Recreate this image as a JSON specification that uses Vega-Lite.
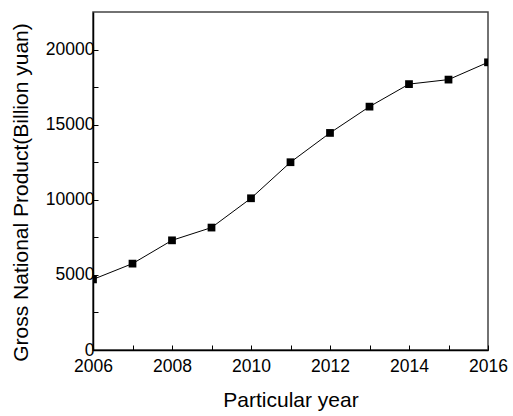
{
  "$schema": "https://vega.github.io/schema/vega-lite/v6.json",
  "width": 395,
  "height": 338,
  "autosize": "none",
  "padding": {"left": 93, "top": 12, "right": 25, "bottom": 66},
  "background": "white",
  "config": {
    "font": "Liberation Sans",
    "view": {"stroke": "#444", "strokeWidth": 1.5},
    "axis": {"grid": false, "domainColor": "black", "tickColor": "black", "labelColor": "black", "titleColor": "black", "labelFont": "Liberation Sans", "titleFont": "Liberation Sans", "titleFontWeight": "normal"}
  },
  "data": {
    "values": [
      {"year": 2006, "gnp": 4700},
      {"year": 2007, "gnp": 5750},
      {"year": 2008, "gnp": 7300},
      {"year": 2009, "gnp": 8150},
      {"year": 2010, "gnp": 10100},
      {"year": 2011, "gnp": 12500},
      {"year": 2012, "gnp": 14450},
      {"year": 2013, "gnp": 16200},
      {"year": 2014, "gnp": 17700},
      {"year": 2015, "gnp": 18000},
      {"year": 2016, "gnp": 19150}
    ]
  },
  "encoding": {
    "x": {
      "field": "year", "type": "quantitative",
      "scale": {"domain": [2006, 2016], "nice": false, "zero": false},
      "axis": {"title": "Particular year", "values": [2006, 2007, 2008, 2009, 2010, 2011, 2012, 2013, 2014, 2015, 2016], "labelExpr": "datum.value % 2 == 0 ? datum.label : ''", "format": "d", "tickSize": -5, "labelPadding": 12, "labelFontSize": 17.5, "titleFontSize": 21, "titlePadding": 15, "domainWidth": 1.5, "labelFlush": false}
    },
    "y": {
      "field": "gnp", "type": "quantitative",
      "scale": {"domain": [0, 22500], "nice": false},
      "axis": {"title": "Gross National Product(Billion yuan)", "values": [0, 2500, 5000, 7500, 10000, 12500, 15000, 17500, 20000], "labelExpr": "datum.value % 5000 == 0 ? datum.value : ''", "tickSize": -5, "labelPadding": 4, "labelFontSize": 17.5, "titleFontSize": 21, "titlePadding": 14, "titleY": 180, "domainWidth": 1.5, "labelFlush": false}
    }
  },
  "layer": [
    {"mark": {"type": "line", "color": "black", "strokeWidth": 1, "clip": true}},
    {"mark": {"type": "point", "shape": "square", "filled": true, "color": "black", "opacity": 1, "size": 60, "clip": true}}
  ]
}
